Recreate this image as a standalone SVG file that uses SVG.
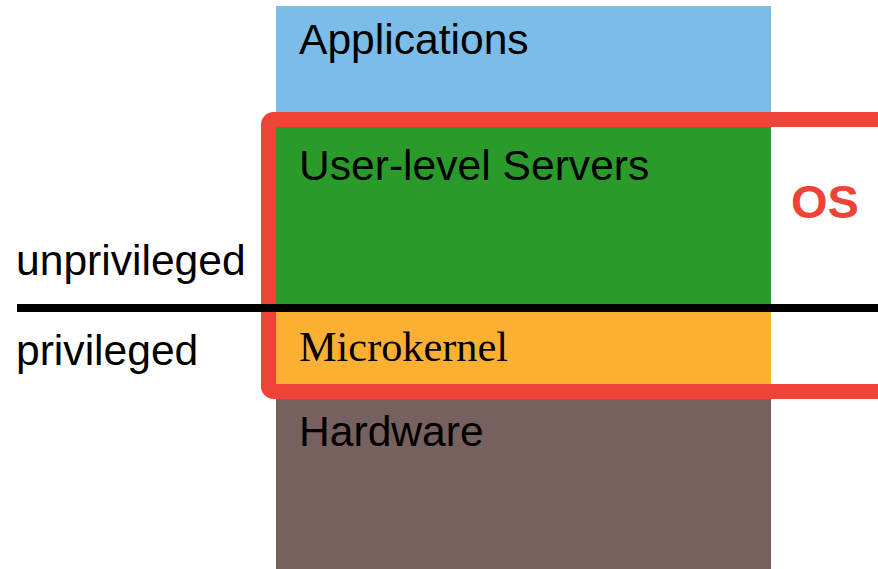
<svg xmlns="http://www.w3.org/2000/svg" width="878" height="569" viewBox="0 0 878 569">
<style>
.lbl{font-family:"Liberation Sans",Arial,sans-serif;font-size:42.6px;fill:#000}
.serif{font-family:"Liberation Serif","Times New Roman",serif;font-size:42.3px;fill:#000}
</style>
<rect width="878" height="569" fill="#fff"/>
<g id="applications"><rect x="276" y="6" width="495" height="125" fill="#7bbde8"/><text class="lbl" x="299" y="54">Applications</text></g>
<g id="servers"><rect x="276" y="125" width="495" height="183" fill="#2a9a2a"/><text class="lbl" x="299" y="180">User-level Servers</text></g>
<g id="microkernel"><rect x="276" y="308" width="495" height="84" fill="#fbb034"/><text class="serif" x="299" y="361">Microkernel</text></g>
<g id="hardware"><rect x="276" y="390" width="495" height="179" fill="#76615f"/><text class="lbl" x="299" y="446">Hardware</text></g>
<g id="os"><rect x="268.5" y="119.5" width="640" height="272" rx="5" fill="none" stroke="#ef4338" stroke-width="15"/><text x="791" y="218" font-family="Liberation Sans,Arial,sans-serif" font-weight="bold" font-size="47" fill="#ef4338">OS</text></g>
<g id="connectors"><line x1="17" y1="308" x2="878" y2="308" stroke="#000" stroke-width="8"/></g>
<g id="labels"><text class="lbl" x="16" y="275">unprivileged</text><text class="lbl" x="16" y="365">privileged</text></g>
</svg>
